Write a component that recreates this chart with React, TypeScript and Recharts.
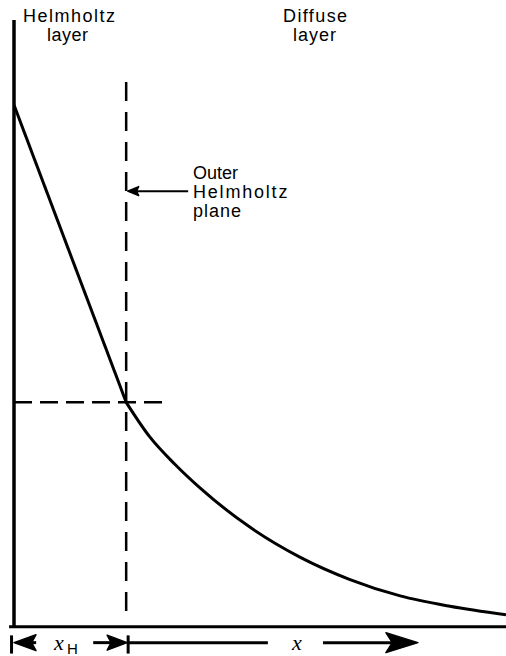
import { Line, LineChart, ReferenceLine, XAxis, YAxis } from 'recharts'

// distance from electrode (0–100) and potential (arbitrary units, 0 at the bottom axis)
const helmholtzX = [0, 22.8]
const helmholtzY = [86.0, 37.0]
const diffuseX = [22.8, 27.6, 32.7, 37.8, 48.0, 58.1, 68.3, 78.5, 88.6, 100]
const diffuseY = [37.0, 31.3, 26.8, 22.9, 16.4, 11.5, 7.8, 5.1, 3.4, 2.0]

const helmholtzData = helmholtzX.map((x, i) => ({ x, y: helmholtzY[i] }))
const diffuseData = diffuseX.map((x, i) => ({ x, y: diffuseY[i] }))

const X_PLANE = 22.8
const PLANE_SPAN = [89.8, 2.5]
const PLANE_POTENTIAL = 37.0
const POTENTIAL_LINE_END = 30.1
const Y_MIN = -4.8

// dimension arrows under the axis
const DIM_Y = -2.6
const XH_LEFT = [4.5, 0]
const XH_RIGHT = [16.1, 23.0]
const X_SHAFT = [23.2, 51.6]
const X_HEAD = [62.8, 82.1]
const DIM_BARS = [-0.5, 23.2]
const BAR_SPAN = [-1.4, -4.4]
const OHP_ARROW = [35.4, 23.1]
const OHP_Y = 71.8

const W = 506
const H = 656

function Arrow(props: any) {
  const { x1, y1, x2, y2, len = 0, half = 0, width = 3 } = props
  const dir = x2 >= x1 ? 1 : -1
  const back = x2 - dir * len
  const notch = x2 - dir * len * 0.8
  const pts = `${x2},${y2} ${back},${y2 - half} ${notch},${y2} ${back},${y2 + half}`
  return (
    <g>
      <line x1={x1} y1={y1} x2={len > 0 ? notch : x2} y2={y2} stroke="#000" strokeWidth={width} />
      {len > 0 && <polygon points={pts} fill="#000" stroke="#000" strokeWidth={1.5} strokeLinejoin="round" />}
    </g>
  )
}

const txt = { fontFamily: '"Liberation Sans", Arial, sans-serif', fill: '#000' }
const serif = { fontFamily: '"Liberation Serif", "Times New Roman", serif', fontStyle: 'italic', fill: '#000' }

export default function App() {
  return (
    <div style={{ position: 'absolute', left: 0, top: 0, width: W, height: H, background: '#fff' }}>
      <LineChart width={W} height={H} margin={{ top: 20, right: 0, bottom: 0, left: 14 }}>
        <XAxis type="number" dataKey="x" domain={[0, 100]} allowDataOverflow hide />
        <YAxis type="number" domain={[Y_MIN, 100]} allowDataOverflow hide />

        {/* axes */}
        <ReferenceLine
          segment={[{ x: 0, y: 0 }, { x: 0, y: 100 }]}
          stroke="#000"
          strokeWidth={3.5}
          ifOverflow="visible"
        />
        <ReferenceLine
          segment={[{ x: -1, y: 0 }, { x: 100, y: 0 }]}
          stroke="#000"
          strokeWidth={3}
          ifOverflow="visible"
        />

        {/* outer Helmholtz plane and its potential */}
        <ReferenceLine
          segment={[{ x: X_PLANE, y: PLANE_SPAN[0] }, { x: X_PLANE, y: PLANE_SPAN[1] }]}
          stroke="#000"
          strokeWidth={2.5}
          strokeDasharray="19 11"
          ifOverflow="visible"
        />
        <ReferenceLine
          segment={[{ x: 0, y: PLANE_POTENTIAL }, { x: POTENTIAL_LINE_END, y: PLANE_POTENTIAL }]}
          stroke="#000"
          strokeWidth={2.5}
          strokeDasharray="18 8"
          ifOverflow="visible"
        />
        <ReferenceLine
          segment={[{ x: OHP_ARROW[0], y: OHP_Y }, { x: OHP_ARROW[1], y: OHP_Y }]}
          ifOverflow="visible"
          shape={(p: any) => <Arrow {...p} len={11} half={4.5} width={2} />}
        />

        <Line
          data={helmholtzData}
          dataKey="y"
          type="linear"
          stroke="#000"
          strokeWidth={3}
          dot={false}
          isAnimationActive={false}
        />
        <Line
          data={diffuseData}
          dataKey="y"
          type="monotone"
          stroke="#000"
          strokeWidth={3}
          dot={false}
          isAnimationActive={false}
        />

        {/* dimension arrows */}
        <ReferenceLine
          segment={[{ x: XH_LEFT[0], y: DIM_Y }, { x: XH_LEFT[1], y: DIM_Y }]}
          ifOverflow="visible"
          shape={(p: any) => <Arrow {...p} len={22} half={8} />}
        />
        <ReferenceLine
          segment={[{ x: XH_RIGHT[0], y: DIM_Y }, { x: XH_RIGHT[1], y: DIM_Y }]}
          ifOverflow="visible"
          shape={(p: any) => <Arrow {...p} len={20} half={7.5} />}
        />
        <ReferenceLine
          segment={[{ x: X_SHAFT[0], y: DIM_Y }, { x: X_SHAFT[1], y: DIM_Y }]}
          ifOverflow="visible"
          shape={(p: any) => <Arrow {...p} />}
        />
        <ReferenceLine
          segment={[{ x: X_HEAD[0], y: DIM_Y }, { x: X_HEAD[1], y: DIM_Y }]}
          ifOverflow="visible"
          shape={(p: any) => <Arrow {...p} len={32} half={10} />}
        />
        {DIM_BARS.map((bx) => (
          <ReferenceLine
            key={bx}
            segment={[{ x: bx, y: BAR_SPAN[0] }, { x: bx, y: BAR_SPAN[1] }]}
            stroke="#000"
            strokeWidth={3}
            ifOverflow="visible"
          />
        ))}
      </LineChart>

      <svg width={W} height={H} style={{ position: 'absolute', left: 0, top: 0, pointerEvents: 'none' }}>
        <text x={23} y={22} fontSize={18} letterSpacing={1.5} style={txt}>Helmholtz</text>
        <text x={47} y={41} fontSize={18} letterSpacing={0.5} style={txt}>layer</text>
        <text x={283} y={22} fontSize={18} letterSpacing={1.4} style={txt}>Diffuse</text>
        <text x={293} y={41} fontSize={18} letterSpacing={1} style={txt}>layer</text>

        <text x={193} y={179} fontSize={18} style={txt}>Outer</text>
        <text x={193} y={198} fontSize={18} letterSpacing={1.8} style={txt}>Helmholtz</text>
        <text x={193} y={217} fontSize={18} letterSpacing={1} style={txt}>plane</text>

        <text x={54} y={650} fontSize={22} style={serif}>x</text>
        <text x={67} y={654} fontSize={15} style={txt}>H</text>
        <text x={292} y={650} fontSize={22} style={serif}>x</text>
      </svg>
    </div>
  )
}
